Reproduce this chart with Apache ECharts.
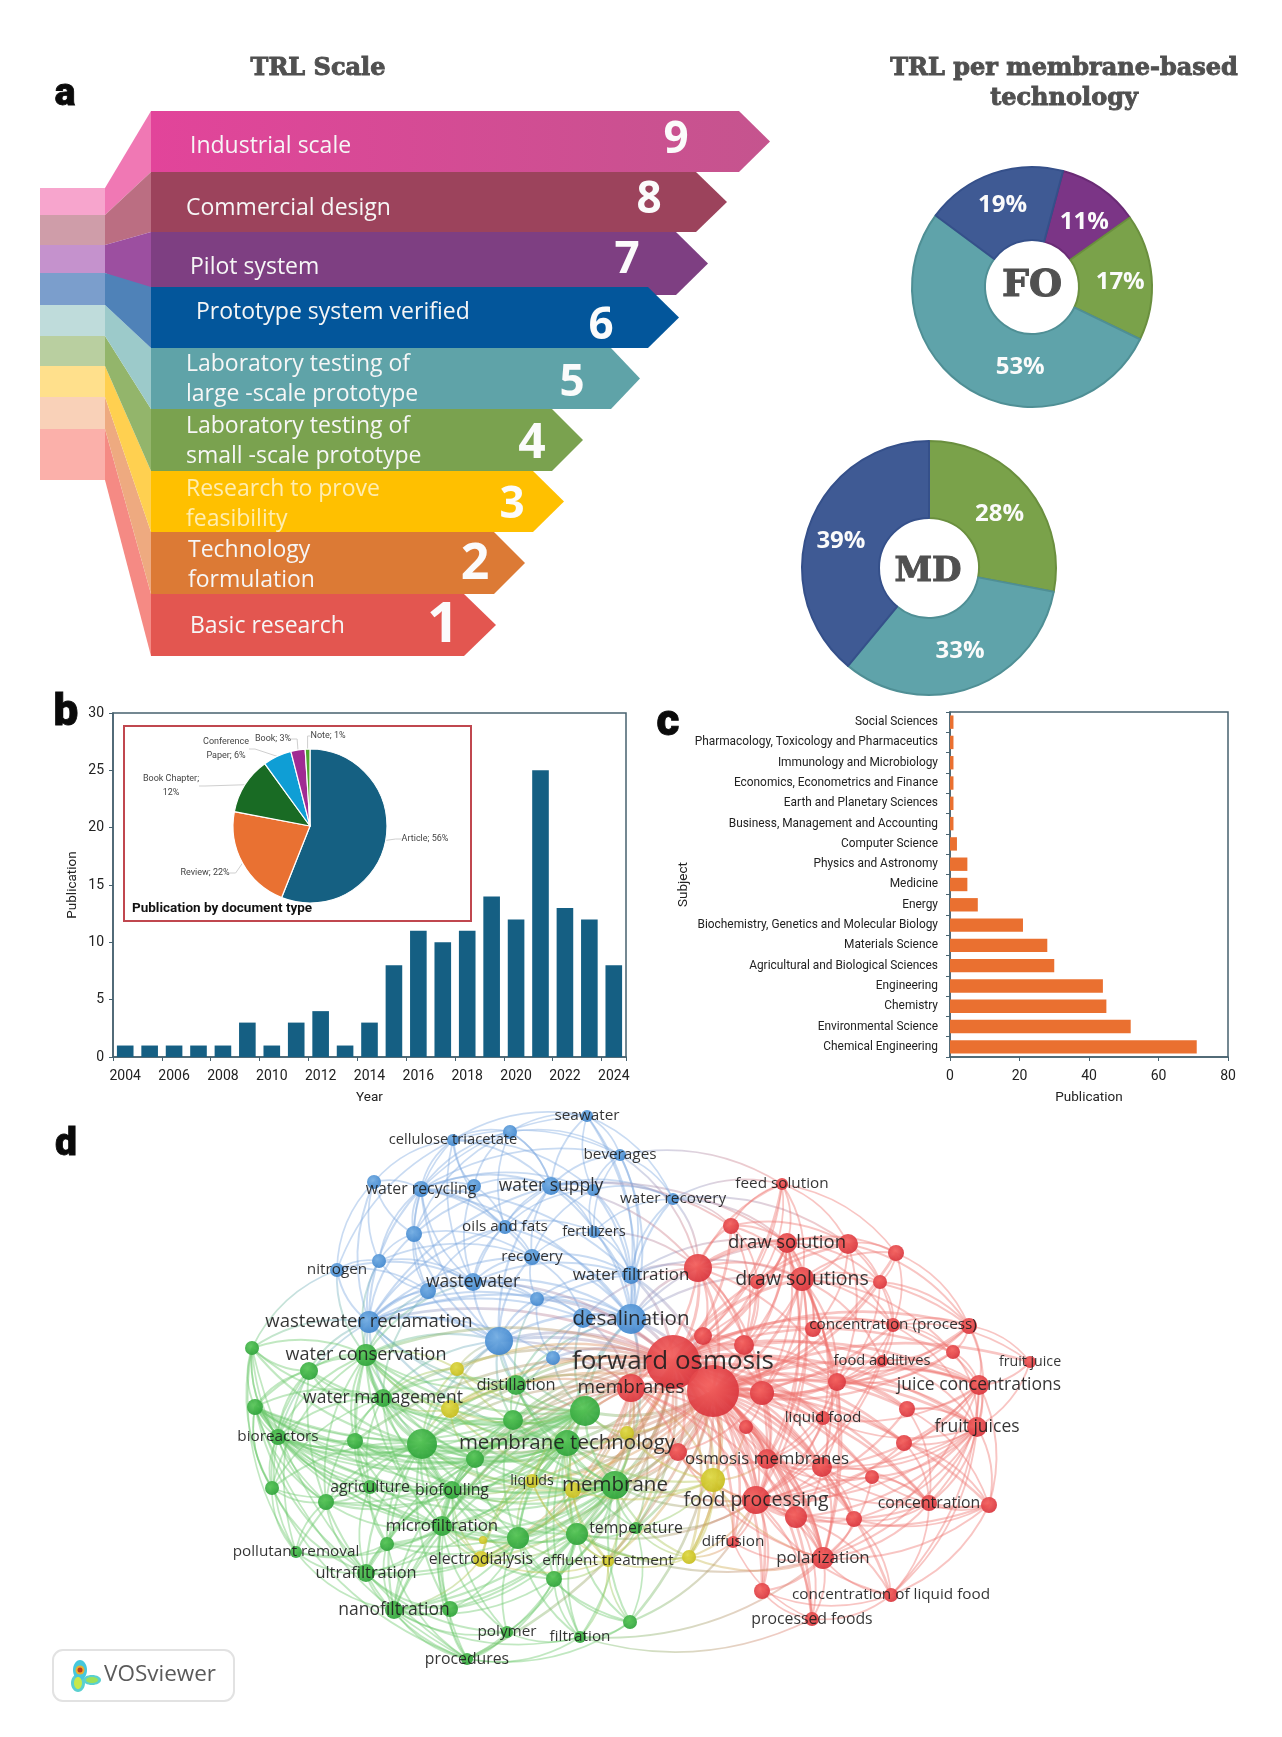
<!DOCTYPE html>
<html>
<head>
<meta charset="utf-8">
<style>html,body{margin:0;padding:0;background:#fff}#chart{width:1282px;height:1737px}</style>
<script src="https://cdn.jsdelivr.net/npm/echarts@6/dist/echarts.min.js"></script>
</head>
<body>
<div id="chart"></div>
<script>
// ---------- Panel a: TRL scale ----------
const trlLevels = [9, 8, 7, 6, 5, 4, 3, 2, 1];
const trlTitles = ['Industrial scale', 'Commercial design', 'Pilot system', 'Prototype system verified',
  'Laboratory testing of\nlarge -scale prototype', 'Laboratory testing of\nsmall -scale prototype',
  'Research to prove\nfeasibility', 'Technology\nformulation', 'Basic research'];
const trlBodyEnd = [739, 696, 676, 648, 611, 552, 533, 494, 464];
const trlTip = [770, 727, 708, 679, 640, 583, 564, 525, 496];
const trlTop = [111, 172, 232, 287, 348, 409, 471, 532, 594];
const trlBottom = [172, 232, 295, 348, 409, 471, 532, 594, 656];
const trlTabTop = [188, 215, 245, 273, 305, 336, 366, 397, 429];
const trlTabBottom = [215, 245, 273, 305, 336, 366, 397, 429, 480];

// ---------- Panel a: donuts ----------
const foNames = ['TRL 7', 'TRL 4', 'TRL 5', 'TRL 6'];
const foValues = [11, 17, 53, 19];
const mdNames = ['TRL 4', 'TRL 5', 'TRL 6'];
const mdValues = [28, 33, 39];

// ---------- Panel b ----------
const years = ['2004','2005','2006','2007','2008','2009','2010','2011','2012','2013','2014','2015','2016','2017','2018','2019','2020','2021','2022','2023','2024'];
const publications = [1,1,1,1,1,3,1,3,4,1,3,8,11,10,11,14,12,25,13,12,8];
const docTypes = ['Article','Review','Book Chapter','Conference Paper','Book','Note'];
const docShares = [56,22,12,6,3,1];
const docLabels = ['Article; 56%','Review; 22%','Book Chapter;\n12%','Conference\nPaper; 6%','Book; 3%','Note; 1%'];

// ---------- Panel c ----------
const subjects = ['Chemical Engineering','Environmental Science','Chemistry','Engineering','Agricultural and Biological Sciences','Materials Science','Biochemistry, Genetics and Molecular Biology','Energy','Medicine','Physics and Astronomy','Computer Science','Business, Management and Accounting','Earth and Planetary Sciences','Economics, Econometrics and Finance','Immunology and Microbiology','Pharmacology, Toxicology and Pharmaceutics','Social Sciences'];
const subjectCounts = [71,52,45,44,30,28,21,8,5,5,2,1,1,1,1,1,1];

// ---------- Panel d: keyword network, rows are [label, x, y, weight] ----------
const blueNodes = [
['seawater',587,1116,6],['cellulose triacetate',453,1140,6],['',510,1132,7],['beverages',620,1155,6],['',374,1182,7],
['water recycling',421,1189,8],['',474,1186,7],['water supply',551,1186,9],['',593,1190,6],['water recovery',673,1199,6],
['',414,1234,8],['oils and fats',505,1227,7],['fertilizers',594,1232,6],['recovery',532,1257,8],['',379,1261,7],
['nitrogen',337,1270,7],['water filtration',631,1275,9],['wastewater',473,1282,9],['',428,1291,8],['',537,1299,7],
['desalination',631,1319,15],['wastewater reclamation',369,1322,11],['',499,1341,14],['',553,1358,7],['',583,1318,10]];
const greenNodes = [
['',252,1348,7],['water conservation',366,1355,11],['',309,1371,9],['distillation',516,1385,10],['water management',383,1398,9],
['',255,1407,8],['',585,1411,15],['',513,1420,10],['bioreactors',278,1437,8],['',355,1441,8],
['',422,1444,15],['membrane technology',567,1443,13],['',475,1459,9],['agriculture',370,1487,7],['biofouling',452,1490,9],
['',272,1488,7],['',326,1502,8],['membrane',615,1485,14],['microfiltration',442,1526,10],['',518,1538,11],
['',577,1534,11],['temperature',636,1528,6],['',387,1544,7],['pollutant removal',296,1552,6],['ultrafiltration',366,1573,9],
['',554,1579,8],['nanofiltration',394,1610,9],['',450,1609,8],['polymer',507,1632,6],['',630,1622,7],
['filtration',580,1637,6],['procedures',467,1659,6]];
const yellowNodes = [
['',457,1369,7],['',450,1409,9],['',627,1433,7],['liquids',532,1481,7],['',573,1490,8],
['',713,1480,12],['electrodialysis',481,1559,8],['',483,1540,4],['effluent treatment',608,1561,6],['',689,1557,7]];
const redNodes = [
['feed solution',782,1184,6],['',731,1226,8],['draw solution',787,1243,10],['',848,1244,10],['',896,1253,8],
['',698,1268,14],['draw solutions',802,1279,12],['',757,1282,7],['',880,1282,7],['',969,1326,8],
['concentration (process)',893,1325,7],['',813,1329,8],['',703,1336,9],['',744,1345,10],['forward osmosis',673,1362,27],
['',713,1391,26],['',762,1393,12],['',953,1352,7],['fruit juice',1030,1362,6],['food additives',882,1361,6],
['',837,1382,9],['juice concentrations',979,1385,10],['membranes',631,1388,14],['liquid food',823,1418,7],['',907,1409,8],
['',746,1427,7],['fruit juices',977,1427,10],['',904,1443,8],['',678,1452,9],['osmosis membranes',767,1459,10],
['',822,1467,10],['',872,1477,7],['concentration',929,1503,8],['',989,1505,8],['food processing',756,1500,14],
['',796,1517,11],['',854,1519,8],['diffusion',733,1542,6],['polarization',823,1558,11],['',762,1591,8],
['concentration of liquid food',891,1595,7],['processed foods',812,1619,7]];
// Each row: a source keyword followed by the keywords it is linked to (b=blue, g=green, y=yellow, r=red).
const networkLinks = [
'b20 b16 b24 b7 b12 b13 b19 b23 b22 b21 b17 b9 b3 b0 r14 r15 r5 r12 r22 r2 r6 g6 g11 g3 g17 b11 b5 b8',
'b21 b15 b14 b10 b18 b17 b22 b5 b4 b19 b23 b24 g0 g1 g2 g3 g4 g8 g10 g11 g6 r14 b7 b11 b13',
'b22 b17 b18 b13 b19 b16 b5 b7 b10 g1 g3 g4 g6 g7 g10 g11 y0 y1 r14 r15 r22',
'b17 b18 b19 b13 b10 b5 b7 b11 b14 b15 b1 b6 b16 b24 g1 r14',
'b16 b7 b8 b12 b13 b19 b5 b9 b3 b0 r5 r14 r15 r2 r6',
'b7 b0 b1 b2 b3 b5 b6 b8 b9 b11 b12 b13 b10 r1 r2 r5',
'b5 b1 b2 b4 b6 b10 b11 b13 b14 b18 b0 b3 b8',
'b13 b11 b12 b19 b24 b10 b14 b8',
'b10 b4 b1 b14 b18 b6 b2',
'b1 b2 b0 b6 b3 b4 b11 b8',
'b2 b0 b3 b7 b6',
'b0 b3 b9 b8',
'b3 b8 b12 b9 r0 r5',
'b9 b8 b12 r0 r1 r2 r3 r5',
'b15 b14 b4 b18 g0 g1 b1',
'b14 b4 b18 g1',
'b18 b19 g1 g4 b11',
'b19 b24 b23 r14 g3',
'b23 g3 g7 g6 r14 r22 b24',
'b24 r14 r22 r5 g3 g6',
'b12 b8 r5',
'b11 b8 b6 b2 b12',
'r14 r15 r22 r5 r12 r13 r16 r20 r25 r28 r29 r30 r34 r35 r2 r6 r1 r7 r3 r0 r11 r10 r19 r23 r31 r36 r38 r37 r39 r17 r9 r21 r26 r24 r27 r32 r41 g6 g11 g17 g3 g7 g10 g12 g14 g18 g19 g20 g4 g1 g9 y0 y1 y2 y3 y4 y5 y6 y8 y9 g21 g25',
'r15 r22 r5 r12 r13 r16 r20 r25 r28 r29 r30 r34 r35 r2 r6 r7 r8 r4 r11 r10 r19 r23 r31 r36 r38 r37 r39 r40 r41 r17 r9 r21 r18 r26 r24 r27 r32 r33 g6 g11 g17 g7 g10 g12 g14 g19 g20 y1 y2 y3 y4 y5 y8 y9 g21',
'r22 r5 r12 r28 r29 r34 g6 g11 g17 g3 g7 g10 g12 g14 g18 g19 g20 y1 y2 y3 y4 y5 y6 r38 r25 g21',
'r34 r29 r30 r35 r36 r38 r37 r39 r41 r40 r16 r20 r23 r25 r26 r21 r32 r33 r27 r31 r28 y5 y9 g17 g11 g20 g21 r6 r2 r10 r24 r19',
'r6 r2 r3 r4 r8 r7 r5 r1 r0 r10 r11 r13 r16 r20 r9 r17 r19 r29 r30 r23 r38',
'r2 r0 r1 r3 r4 r5 r7 r8 r11 r13 r10 r12 r16 r29 r38',
'r3 r0 r1 r4 r8 r5 r7 r10 r11 r20 r9',
'r5 r1 r7 r12 r13 r0 r16 r29 r20',
'r21 r26 r18 r9 r17 r19 r10 r20 r16 r24 r27 r30 r23 r32 r33 r38 r40',
'r26 r18 r9 r17 r19 r10 r20 r24 r27 r30 r23 r32 r33 r31 r38 r36 r40 r35 r29',
'r38 r29 r30 r35 r36 r37 r39 r40 r41 r33 r32 r28 r31 r25 y5 y9 g20',
'r29 r30 r35 r25 r16 r28 r36 r31 r32 r23 r20 y5',
'r30 r23 r20 r31 r36 r32 r33 r35 r16',
'r20 r11 r10 r19 r16 r23 r13 r8 r9 r17 r24',
'r10 r9 r8 r19 r17 r11 r4 r18',
'r9 r17 r18 r4 r8 r19',
'r33 r32 r27 r24 r31 r36 r40',
'r32 r36 r31 r27 r24 r40',
'r40 r41 r39 r35 r36',
'r41 r39 r37 r35',
'r16 r13 r12 r25 r23 r28',
'r13 r12 r1 r7',
'r1 r0 r7',
'r4 r8 r0',
'r0 r7 r12',
'r28 y2 y5 g11 g17 g6 y4',
'g10 g0 g1 g2 g3 g4 g5 g6 g7 g8 g9 g11 g12 g13 g14 g15 g16 g17 g18 g19 g20 g22 g23 g24 g26 g27 g25 y0 y1 y3 y4 y6',
'g11 g1 g3 g4 g5 g6 g7 g8 g9 g12 g13 g14 g16 g17 g18 g19 g20 g21 g22 g24 g26 g25 g30 y0 y1 y2 y3 y4 y6 y8 y5',
'g17 g1 g3 g4 g5 g6 g7 g8 g9 g12 g13 g14 g18 g19 g20 g21 g22 g24 g25 g26 g27 g29 g30 y1 y2 y3 y4 y5 y6 y8 y9',
'g6 g1 g3 g4 g7 g8 g12 g14 g18 g19 g20 g2 g5 g9 g26 g24 y0 y1 y2 y3 y4 y6',
'g1 g0 g2 g3 g4 g5 g8 g9 g7 g12 g13 g14 g15 g16 g18 g22 y0 y1',
'g4 g0 g2 g3 g5 g7 g8 g9 g12 g13 g14 g15 g16 g18 y0 y1',
'g5 g0 g2 g8 g9 g12 g15 g13 g14 g7 g16 g18 g19',
'g8 g0 g2 g9 g12 g13 g15 g16 g14 g18 g23 g19 g7',
'g18 g7 g9 g12 g13 g14 g16 g19 g20 g22 g23 g24 g25 g26 g27 g28 g31 y3 y6 y7',
'g19 g7 g12 g14 g20 g22 g24 g26 g27 g25 g28 g29 g30 y3 y4 y6 y7 y8',
'g20 g14 g21 g25 g26 g27 g28 g29 g30 g31 y3 y4 y6 y8 y9',
'g14 g7 g9 g12 g13 g16 g22 g24 g26 g27 g28 g31 y3 y4 y6',
'g26 g22 g23 g24 g27 g28 g31 g25 g30 y6',
'g24 g22 g23 g27 g28 g31 g16 g15 g13 g2 g5',
'g31 g27 g28 g29 g30 g25 g22 g15 g0 g5 r15',
'g30 g25 g29 g28 y8 r38 r41',
'g29 g21 g25 y8 r34 r15',
'g23 g15 g16 g22 g2 g0',
'g0 g2 g15 g8 g16',
'g15 g5 g2 g16',
'g13 g9 g16 g22 g15',
'g12 g7 g9 g16 g22 y1',
'g3 g7 y0 y1',
'y5 y2 y4 y9 r25 g21 r37',
'y9 y8 r37 g21 g20 r15',
'y8 y6 y3 y4 g25 g21'
];
const labelFontSizes = {'forward osmosis':26,'desalination':20.5,'draw solutions':19.5,'draw solution':18.5,'membranes':19,'water supply':17.5,'wastewater reclamation':18.5,'water conservation':18,'water management':17.5,'membrane technology':20.5,'membrane':20.5,'food processing':19.5,'fruit juices':17.5,'juice concentrations':17.5,'concentration (process)':15.3,'food additives':14.7,'fruit juice':14.2,'liquid food':15.3,'feed solution':15.3,'water recycling':15.8,'cellulose triacetate':14.7,'seawater':15.3,'beverages':15.3,'water recovery':15.3,'oils and fats':15.3,'fertilizers':14.7,'recovery':15.3,'nitrogen':15.3,'water filtration':16.9,'wastewater':17.5,'distillation':16.4,'bioreactors':15.3,'agriculture':15.8,'biofouling':15.8,'liquids':14.2,'microfiltration':16.9,'temperature':15.8,'pollutant removal':15.3,'electrodialysis':15.8,'effluent treatment':15.3,'ultrafiltration':16.4,'nanofiltration':17.5,'polymer':15.3,'filtration':15.3,'procedures':15.8,'osmosis membranes':16.9,'concentration':15.8,'diffusion':15.3,'polarization':16.9,'concentration of liquid food':15.3,'processed foods':15.8};

// ---------- styling ----------
const SLAB = '"DejaVu Serif", serif';
const SANS = 'Roboto, "Liberation Sans", sans-serif';
const OPEN = '"Open Sans", "Noto Sans", sans-serif';
const bodyColors = [{type:'linear',x:0,y:0,x2:1,y2:0,colorStops:[{offset:0,color:'#e2449a'},{offset:1,color:'#c5548e'}]},'#9c435c','#7e3f82','#03569b','#5fa3a8','#7aa24f','#ffc000','#dc7a35','#e35650'];
const ribbonColors = ['#f078b4','#bb6e82','#9c4fa0','#4f82b8','#9ccaca','#93b56b','#ffd050','#eeaa80','#f58a84'];
const tabColors = ['#f7a5cd','#cf9da9','#c592cd','#7b9ecc','#bfdcdb','#b9cfa0','#ffe08c','#f9d1b8','#fbb0aa'];
const titleX = [190,186,190,196,186,186,186,188,190];
const titleY = [146,208,267,312,379,441,504,565,626];
const numberX = [676,649,627,601,572,532,512,475,443];
const numberY = [140,200,260,326,383,444,505,565,626];
const numberSize = [44,44,44,44,44,48,44,50,56];
const ribbonDrawOrder = [8,7,6,5,4,0,1,2,3];
const clusterFill = {
  b:[ '#74aee3','#3f85cd' ], g:[ '#58c658','#2ea23a' ],
  y:[ '#e0da48','#c6bc1c' ], r:[ '#f4625f','#d8343c' ]
};
const clusterEdge = { b:'#7eaadf', g:'#6cc96c', y:'#c4c44c', r:'#ee7570' };
const MAP_CX = 620, MAP_CY = 1400;

// ---------- network build ----------
const nodeIndex = {};
const graphNodes = [];
[['b',blueNodes],['g',greenNodes],['y',yellowNodes],['r',redNodes]].forEach(([c,rows]) => {
  rows.forEach((row,i) => {
    const id = c + i;
    nodeIndex[id] = row;
    graphNodes.push({
      id, name: row[0] || id, value:[row[1],row[2]], symbolSize:row[3]*2,
      itemStyle:{ color:{type:'radial',x:0.42,y:0.38,r:0.65,colorStops:[{offset:0,color:clusterFill[c][0]},{offset:1,color:clusterFill[c][1]}]}, opacity:0.93 },
      label:{ show:!!row[0], position:'inside', formatter:row[0], fontSize:labelFontSizes[row[0]]||15, color:'#1e1e1e', opacity:0.9, fontFamily:OPEN, overflow:'none' }
    });
  });
});
const graphLinks = [];
networkLinks.forEach(line => {
  const ids = line.split(' ');
  const s = ids[0], a = nodeIndex[s];
  ids.slice(1).forEach(t => {
    const b = nodeIndex[t];
    const nx = b[2]-a[2], ny = a[1]-b[1];
    const mx = (a[1]+b[1])/2-MAP_CX, my = (a[2]+b[2])/2-MAP_CY;
    const sign = nx*mx+ny*my >= 0 ? 1 : -1;
    const c1 = clusterEdge[s[0]], c2 = clusterEdge[t[0]];
    graphLinks.push({ source:s, target:t, lineStyle:{
      curveness:0.2*sign, width:1.1+(a[3]+b[3])/22, opacity:0.42,
      color: c1===c2 ? c1 : {type:'linear',x:a[1]<b[1]?0:1,y:a[2]<b[2]?0:1,x2:a[1]<b[1]?1:0,y2:a[2]<b[2]?1:0,colorStops:[{offset:0,color:c1},{offset:1,color:c2}]}
    }});
  });
});

function pageText(text,x,y,font,fill,align,heavy){
  const style={text,x,y,font,fill,textAlign:align||'center',textVerticalAlign:'middle',lineHeight:30};
  if(heavy){style.stroke=fill;style.lineWidth=heavy;}
  return {type:'text',silent:true,z:40,style};
}

const axisBorder = '#47626f';
const option = {
  animation:false,
  backgroundColor:'#ffffff',
  grid:[
    {left:0,top:0,width:1282,height:1737,show:false},
    {left:113,top:713,width:513,height:344,show:true,borderColor:axisBorder,borderWidth:1.5,backgroundColor:'transparent'},
    {left:950,top:712,width:278,height:345,show:true,borderColor:axisBorder,borderWidth:1.5,backgroundColor:'transparent'}
  ],
  xAxis:[
    {gridIndex:0,type:'value',min:0,max:1282,show:false},
    {gridIndex:1,type:'category',data:years,name:'Year',nameLocation:'middle',nameGap:34,
     nameTextStyle:{fontFamily:SANS,fontSize:13.5,color:'#222'},
     axisLine:{lineStyle:{color:axisBorder,width:1.5}},axisTick:{show:true,interval:1,length:4,lineStyle:{color:axisBorder}},
     axisLabel:{interval:1,margin:12,fontFamily:SANS,fontSize:14,color:'#222'},splitLine:{show:false}},
    {gridIndex:2,type:'value',min:0,max:80,interval:20,name:'Publication',nameLocation:'middle',nameGap:34,
     nameTextStyle:{fontFamily:SANS,fontSize:13.5,color:'#222'},
     axisLine:{show:true,lineStyle:{color:axisBorder,width:1.5}},axisTick:{show:true,length:4,lineStyle:{color:axisBorder}},
     axisLabel:{margin:12,fontFamily:SANS,fontSize:14,color:'#222'},splitLine:{show:false}}
  ],
  yAxis:[
    {gridIndex:0,type:'value',min:0,max:1737,inverse:true,show:false},
    {gridIndex:1,type:'value',min:0,max:30,interval:5,name:'Publication',nameLocation:'middle',nameGap:33,
     nameTextStyle:{fontFamily:SANS,fontSize:13.5,color:'#222'},
     axisLine:{show:true,lineStyle:{color:axisBorder,width:1.5}},axisTick:{show:true,length:4,lineStyle:{color:axisBorder}},
     axisLabel:{margin:9,fontFamily:SANS,fontSize:14,color:'#222'},splitLine:{show:false}},
    {gridIndex:2,type:'category',data:subjects,name:'Subject',nameLocation:'middle',nameGap:251,
     nameTextStyle:{fontFamily:SANS,fontSize:13.5,color:'#222'},
     axisLine:{lineStyle:{color:axisBorder,width:1.5}},axisTick:{show:true,length:4,lineStyle:{color:axisBorder}},
     axisLabel:{interval:0,margin:12,fontFamily:SANS,fontSize:11.9,color:'#222'},splitLine:{show:false}}
  ],
  series:[
    {type:'custom',xAxisIndex:0,yAxisIndex:0,z:2,silent:true,coordinateSystem:'cartesian2d',
     data:ribbonDrawOrder.map(i=>[i]),
     renderItem:(p,api)=>{
       const i=api.value(0);
       const P=(x,y)=>api.coord([x,y]);
       return {type:'group',children:[
         {type:'rect',shape:{x:P(40,0)[0],y:P(0,trlTabTop[i])[1],width:P(105,0)[0]-P(40,0)[0],height:trlTabBottom[i]-trlTabTop[i]},style:{fill:tabColors[i]}},
         {type:'polygon',shape:{points:[P(105,trlTabTop[i]),P(151,trlTop[i]),P(151,trlBottom[i]),P(105,trlTabBottom[i])]},style:{fill:ribbonColors[i]}}
       ]};
     }},
    {type:'custom',xAxisIndex:0,yAxisIndex:0,z:3,silent:true,coordinateSystem:'cartesian2d',
     data:trlLevels.map((l,i)=>[i,trlBodyEnd[i],trlTip[i],trlTop[i],trlBottom[i]]),
     renderItem:(p,api)=>{
       const i=api.value(0);
       const be=api.value(1),tip=api.value(2),t=api.value(3),b=api.value(4);
       const P=(x,y)=>api.coord([x,y]);
       const txt=i===6?'#ffedb0':'#f6f6f6';
       return {type:'group',children:[
         {type:'polygon',shape:{points:[P(151,t),P(be,t),P(tip,(t+b)/2),P(be,b),P(151,b)]},style:{fill:bodyColors[i]}},
         {type:'text',style:{text:trlTitles[i],x:P(titleX[i],0)[0],y:P(0,titleY[i])[1],font:'23px '+OPEN,fill:txt,textAlign:'left',textVerticalAlign:'middle',lineHeight:30}},
         {type:'text',style:{text:String(trlLevels[i]),x:P(numberX[i],0)[0],y:P(0,numberY[i])[1],font:'bold '+numberSize[i]+'px '+OPEN,fill:'#fbfbfb',textAlign:'center',textVerticalAlign:'middle'}}
       ]};
     }},
    {type:'pie',center:[1032,287],radius:[47,120],startAngle:75,silent:true,z:3,
     data:foValues.map((v,i)=>({name:foNames[i],value:v,itemStyle:{color:['#7b3586','#7aa24a','#5fa3aa','#3f5a94'][i],borderColor:['#6a2b75','#6a8f3e','#4f8f95','#35508a'][i],borderWidth:2}})),
     label:{show:true,position:'inside',formatter:'{c}%',fontFamily:OPEN,fontWeight:'bold',fontSize:24,color:'#fbfbfb'},labelLine:{show:false},
     labelLayout:p=>({dx:[3,2,33,-1][p.dataIndex],dy:[6,2,6,0][p.dataIndex]})},
    {type:'pie',center:[929,568],radius:[50,127],startAngle:90,silent:true,z:3,
     data:mdValues.map((v,i)=>({name:mdNames[i],value:v,itemStyle:{color:['#7aa24a','#5fa3aa','#3f5a94'][i],borderColor:['#6a8f3e','#4f8f95','#35508a'][i],borderWidth:2}})),
     label:{show:true,position:'inside',formatter:'{c}%',fontFamily:OPEN,fontWeight:'bold',fontSize:24,color:'#fbfbfb'},labelLine:{show:false},
     labelLayout:p=>({dx:[0,0,-2][p.dataIndex],dy:[4,-3,4][p.dataIndex]})},
    {type:'bar',xAxisIndex:1,yAxisIndex:1,data:publications,barCategoryGap:'32%',itemStyle:{color:'#155f83'},silent:true,z:3},
    {type:'pie',center:[310,826],radius:[0,77],startAngle:90,silent:true,z:5,avoidLabelOverlap:false,
     data:docShares.map((v,i)=>({name:docTypes[i],value:v,itemStyle:{color:['#156082','#e97132','#196b24','#0f9ed5','#a02b93','#4ea72e'][i],borderColor:'#fff',borderWidth:1.2}})),
     label:{show:true,position:'outside',formatter:p=>docLabels[p.dataIndex],fontFamily:SANS,fontSize:9,color:'#444',lineHeight:14},
     labelLine:{show:true,length:8,length2:6,lineStyle:{color:'#cfcfcf',width:1}},
     labelLayout:p=>{
       const anchors=[[425,839],[205,873],[171,786],[226,749],[273,739],[328,736]];
       const a=anchors[p.dataIndex];
       return {x:a[0],y:a[1],align:'center',verticalAlign:'middle'};
     }},
    {type:'bar',xAxisIndex:2,yAxisIndex:2,data:subjectCounts,barCategoryGap:'34%',itemStyle:{color:'#ea7030'},silent:true,z:3},
    {type:'graph',coordinateSystem:'cartesian2d',xAxisIndex:0,yAxisIndex:0,layout:'none',roam:false,silent:true,z:2,
     data:graphNodes,links:graphLinks,edgeSymbol:['none','none'],
     lineStyle:{width:1.3,opacity:0.42},emphasis:{disabled:true}}
  ],
  graphic:{elements:[
    pageText('a',65,95,'900 39px '+SANS,'#0a0a0a','center',0.8),
    pageText('b',66,714,'900 44px '+SANS,'#0a0a0a','center',0.8),
    pageText('c',668,724,'900 44px '+SANS,'#0a0a0a','center',0.8),
    pageText('d',66,1145,'900 39px '+SANS,'#0a0a0a','center',0.8),
    pageText('TRL Scale',318,69,'bold 24px '+SLAB,'#505050','center',0.9),
    pageText('TRL per membrane-based\ntechnology',1064,84,'bold 24px '+SLAB,'#505050','center',0.9),
    pageText('FO',1032,286,'bold 38px '+SLAB,'#505050','center',1),
    pageText('MD',928,572,'bold 34px '+SLAB,'#505050','center',1),
    pageText('Publication by document type',132,909,'bold 13.5px '+SANS,'#111','left'),
    {type:'rect',z:30,silent:true,shape:{x:124,y:726,width:347,height:195},style:{fill:'transparent',stroke:'#c0474f',lineWidth:2}},
    {type:'rect',z:30,silent:true,shape:{x:53,y:1650,width:181,height:51,r:10},style:{fill:'#fff',stroke:'#e2e2e2',lineWidth:2}},
    {type:'ellipse',z:31,silent:true,shape:{cx:78,cy:1683,rx:7,ry:9},style:{fill:'#5ad0d0'}},
    {type:'ellipse',z:31,silent:true,shape:{cx:92,cy:1680,rx:9,ry:5},style:{fill:'#5ad0d0'}},
    {type:'ellipse',z:31,silent:true,shape:{cx:80,cy:1670,rx:7,ry:10},style:{fill:'#46c8dc'}},
    {type:'ellipse',z:31,silent:true,shape:{cx:78,cy:1683,rx:4,ry:6},style:{fill:'#c8e84a'}},
    {type:'ellipse',z:31,silent:true,shape:{cx:92,cy:1680,rx:6,ry:3},style:{fill:'#9be05a'}},
    {type:'circle',z:32,silent:true,shape:{cx:80,cy:1670,r:4.5},style:{fill:'#e8b030'}},
    {type:'circle',z:33,silent:true,shape:{cx:80,cy:1670,r:2.5},style:{fill:'#c0391c'}},
    pageText('VOSviewer',160,1675,'22.5px '+OPEN,'#5a5a5a')
  ]}
};
const chart = echarts.init(document.getElementById('chart'),null,{renderer:'canvas',width:1282,height:1737});
chart.setOption(option);
</script>
</body>
</html>
